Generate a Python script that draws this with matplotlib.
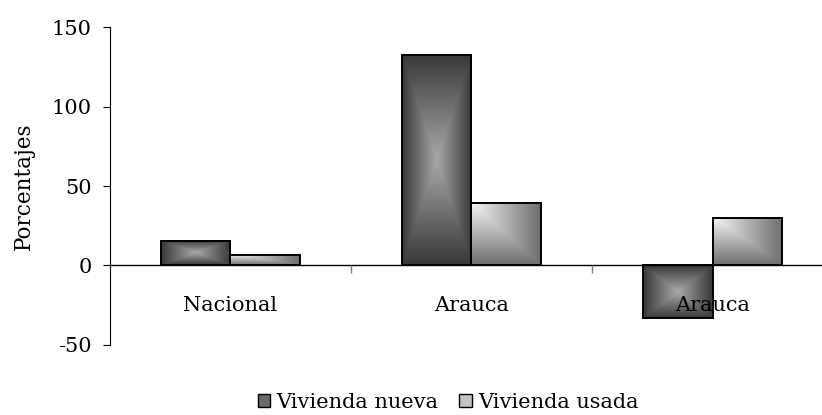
import matplotlib
matplotlib.use("Agg")
import matplotlib.pyplot as plt
import numpy as np
from matplotlib.colors import LinearSegmentedColormap
from matplotlib.patches import Rectangle

# datos
categorias = ["Nacional", "Arauca", "Arauca"]
vivienda_nueva = [15.7, 132.5, -33.0]
vivienda_usada = [6.5, 39.0, 29.7]
series = ["Vivienda nueva", "Vivienda usada"]
yticks = [-50, 0, 50, 100, 150]

plt.rcParams['font.family'] = ['DejaVu Serif']
fs = 15

cm_oscuro = LinearSegmentedColormap.from_list("osc", ["#383838", "#a8a8a8"])
cm_claro = LinearSegmentedColormap.from_list("cla", ["#f6f6f6", "#6e6e6e"])

n = 200
u, v = np.meshgrid(np.linspace(-1, 1, n), np.linspace(-1, 1, n))
grad_centro = 1 - np.maximum(np.abs(u), np.abs(v))
a, b = np.meshgrid(np.linspace(0, 1, n), np.linspace(0, 1, n))
grad_esquina = np.maximum(a, b)  # fila 0 = arriba con origin='upper'

fig = plt.figure(figsize=(8.22, 4.15), dpi=100)
ax = fig.add_axes([0.1338, 0.1687, 0.8796, 0.7662])

ancho = 0.29


def barra(x0, h, img, cmap):
    y0, y1 = min(0, h), max(0, h)
    ax.imshow(img, cmap=cmap, extent=[x0, x0 + ancho, y0, y1],
              aspect='auto', origin='upper', zorder=2, interpolation='bilinear')
    ax.add_patch(Rectangle((x0, y0), ancho, y1 - y0, fill=False,
                           edgecolor='black', linewidth=1.4, zorder=3))


for i in range(len(categorias)):
    barra(i - ancho, vivienda_nueva[i], grad_centro, cm_oscuro)
    barra(i, vivienda_usada[i], grad_esquina, cm_claro)
    ax.text(i, -25, categorias[i], ha='center', va='center', fontsize=fs, zorder=5)

ax.set_xlim(-0.5, len(categorias) - 0.5)
ax.set_ylim(-50, 150)
ax.axhline(0, color='black', linewidth=1.0, zorder=4)
# marcas de categoria sobre la linea del cero
ax.vlines(np.arange(len(categorias)) + 0.5, -4.5, 0, color='#808080', linewidth=1.0, zorder=4)

for s in ['top', 'right', 'bottom']:
    ax.spines[s].set_visible(False)
ax.spines['left'].set_linewidth(0.8)
ax.set_xticks([])
ax.set_yticks(yticks)
ax.set_yticklabels([str(t) for t in yticks], fontsize=fs)
ax.tick_params(axis='y', length=5, width=0.8, pad=8)
ax.set_ylabel("Porcentajes", fontsize=fs + 0.5, labelpad=12)

h1 = Rectangle((0, 0), 1, 1, facecolor='#6a6a6a', edgecolor='black', linewidth=1.0)
h2 = Rectangle((0, 0), 1, 1, facecolor='#c4c4c4', edgecolor='black', linewidth=1.0)
fig.legend([h1, h2], series, loc='center', bbox_to_anchor=(0.545, 0.03),
           ncol=2, frameon=False, fontsize=fs, handlelength=0.6, handleheight=0.6,
           handletextpad=0.3, columnspacing=1.0, borderpad=0.1)

fig.savefig("out.png", dpi=100)
